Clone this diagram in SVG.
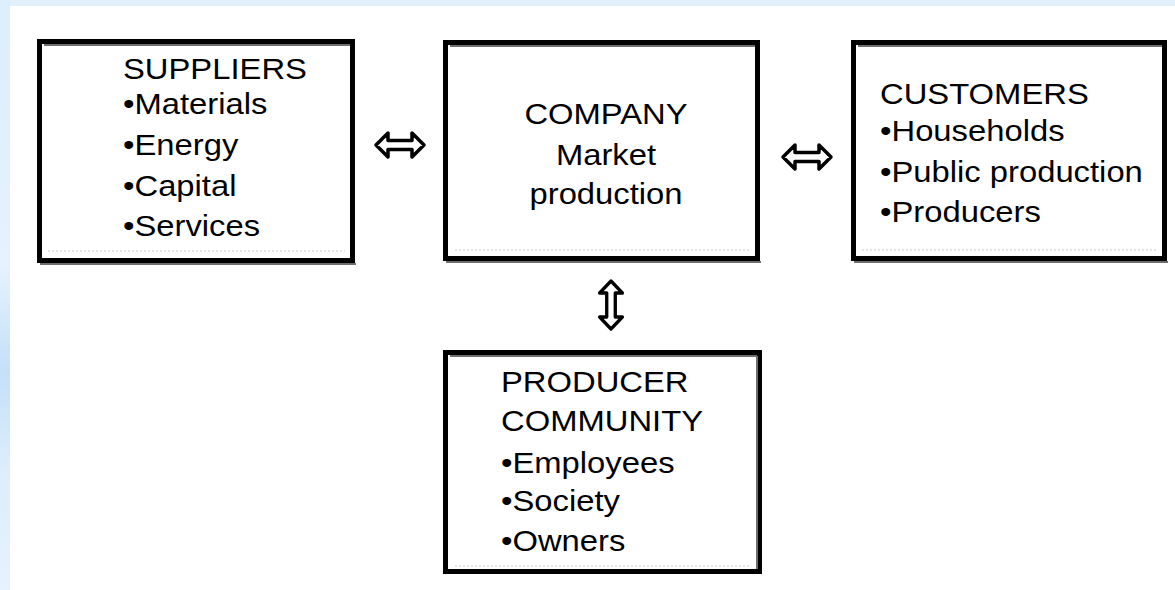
<svg xmlns="http://www.w3.org/2000/svg" xmlns:xlink="http://www.w3.org/1999/xlink" width="1175" height="590" viewBox="0 0 1175 590">
  <style>
    .box { fill: #ffffff; stroke: #000000; stroke-width: 5; }
    .shade { stroke: #6e6e6e; stroke-width: 2; fill: none; }
    .dots { stroke: #dcdcdc; stroke-width: 1.5; stroke-dasharray: 2 2; fill: none; }
    .lbl { font-family: "Liberation Sans", Arial, sans-serif; font-size: 29px; fill: #000000; }
    .mid { text-anchor: middle; }
    .arrow { fill: #ffffff; stroke: #000000; stroke-width: 3.5; stroke-linejoin: round; }
  </style>
  <defs>
    <linearGradient id="edgeLeft" x1="0" y1="0" x2="0" y2="1">
      <stop offset="0" stop-color="#dcedfc"/>
      <stop offset="0.45" stop-color="#e6f2fd"/>
      <stop offset="0.63" stop-color="#c4e0f9"/>
      <stop offset="0.8" stop-color="#deedfc"/>
      <stop offset="1" stop-color="#e6f2fd"/>
    </linearGradient>
    <!-- double-headed hollow arrow, centred on the origin, pointing along x -->
    <path id="dblArrow" class="arrow" d="M -24,0 L -12,-12 L -12,-4.5 L 12,-4.5 L 12,-12 L 24,0 L 12,12 L 12,4.5 L -12,4.5 L -12,12 Z"/>
  </defs>

  <!-- page background with pale blue frame edges -->
  <rect x="0" y="0" width="1175" height="590" fill="#ffffff"/>
  <rect x="0" y="0" width="1175" height="6" fill="#e2f0fc"/>
  <rect x="0" y="0" width="10" height="590" fill="url(#edgeLeft)"/>

  <g id="connectors">
    <use xlink:href="#dblArrow" transform="translate(400,145)"/>
    <use xlink:href="#dblArrow" transform="translate(807,157)"/>
    <use xlink:href="#dblArrow" transform="translate(611,305) rotate(90) scale(1,0.95)"/>
  </g>

  <g id="suppliers">
    <rect class="box" x="39.5" y="41.5" width="313" height="219"/>
    <line class="shade" x1="44" y1="45" x2="350" y2="45"/>
    <line class="shade" x1="40" y1="264" x2="356" y2="264"/>
    <line class="dots" x1="48" y1="251" x2="345" y2="251"/>
    <g transform="translate(123,0) scale(1.13,1)">
      <text class="lbl" x="0" y="79">SUPPLIERS</text>
      <text class="lbl" x="0" y="114">•Materials</text>
      <text class="lbl" x="0" y="155">•Energy</text>
      <text class="lbl" x="0" y="196">•Capital</text>
      <text class="lbl" x="0" y="236">•Services</text>
    </g>
  </g>

  <g id="company">
    <rect class="box" x="445.5" y="42.5" width="312" height="216"/>
    <line class="shade" x1="450" y1="46" x2="755" y2="46"/>
    <line class="shade" x1="446" y1="262" x2="761" y2="262"/>
    <line class="dots" x1="455" y1="250" x2="750" y2="250"/>
    <g transform="translate(606,0) scale(1.13,1)">
      <text class="lbl mid" x="0" y="124">COMPANY</text>
      <text class="lbl mid" x="0" y="165">Market</text>
      <text class="lbl mid" x="0" y="204">production</text>
    </g>
  </g>

  <g id="customers">
    <rect class="box" x="853.5" y="42.5" width="311" height="216"/>
    <line class="shade" x1="858" y1="46" x2="1162" y2="46"/>
    <line class="shade" x1="854" y1="262" x2="1168" y2="262"/>
    <line class="dots" x1="862" y1="250" x2="1158" y2="250"/>
    <g transform="translate(880,0) scale(1.13,1)">
      <text class="lbl" x="0" y="104">CUSTOMERS</text>
      <text class="lbl" x="0" y="141">•Households</text>
      <text class="lbl" x="0" y="182">•Public production</text>
      <text class="lbl" x="0" y="222">•Producers</text>
    </g>
  </g>

  <g id="producer-community">
    <rect class="box" x="445.5" y="352.5" width="314" height="219"/>
    <line class="shade" x1="450" y1="356" x2="757" y2="356"/>
    <line class="shade" x1="757" y1="356" x2="757" y2="569"/>
    <line class="dots" x1="455" y1="566" x2="750" y2="566"/>
    <g transform="translate(501,0) scale(1.13,1)">
      <text class="lbl" x="0" y="392">PRODUCER</text>
      <text class="lbl" x="0" y="431">COMMUNITY</text>
      <text class="lbl" x="0" y="473">•Employees</text>
      <text class="lbl" x="0" y="511">•Society</text>
      <text class="lbl" x="0" y="551">•Owners</text>
    </g>
  </g>
</svg>
